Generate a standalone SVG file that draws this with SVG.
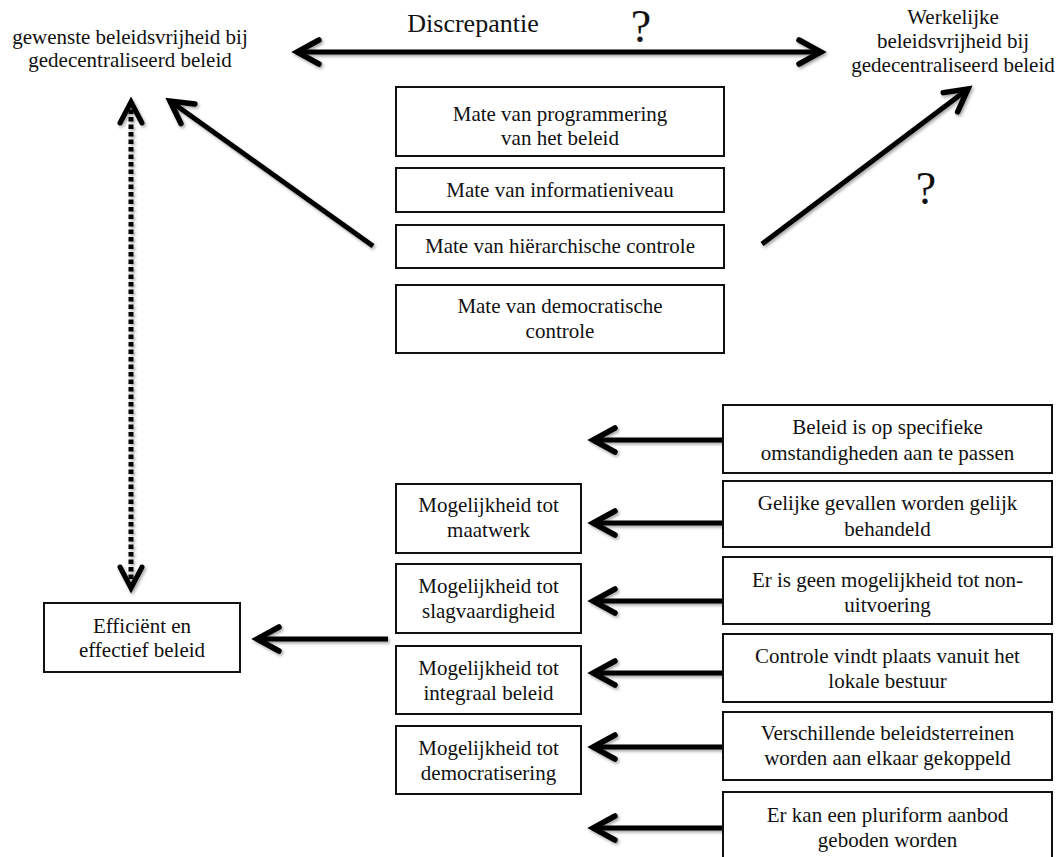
<svg xmlns="http://www.w3.org/2000/svg" width="1061" height="857" viewBox="0 0 1061 857">
<style>
  text { font-family: "Liberation Serif", "Times New Roman", serif; font-size: 21px; fill: #111; text-anchor: middle; }
  .box { fill: #fff; stroke: #111; stroke-width: 2; }
  .conn { fill: none; stroke: #000; stroke-width: 5; }
  .dot { stroke-dasharray: 4.5 3; }
  .big { font-size: 26px; }
  .q { font-size: 46px; }
</style>
<defs>
  <filter id="sh" x="-10%" y="-10%" width="120%" height="120%">
    <feDropShadow dx="1.5" dy="2" stdDeviation="1.5" flood-color="#000" flood-opacity="0.35"/>
  </filter>
  <marker id="ah" viewBox="-30 -20 40 40" markerWidth="40" markerHeight="40" refX="0" refY="0" orient="auto-start-reverse" markerUnits="userSpaceOnUse" overflow="visible">
    <path d="M -22 -12 L 0 0 L -22 12" fill="none" stroke="#000" stroke-width="5.5" stroke-linecap="round" stroke-linejoin="miter" stroke-dasharray="none"/>
  </marker>
  <marker id="ahv" viewBox="-30 -20 40 40" markerWidth="40" markerHeight="40" refX="0" refY="0" orient="auto-start-reverse" markerUnits="userSpaceOnUse" overflow="visible">
    <path d="M -21 -11 L 0 0 L -21 11" fill="none" stroke="#000" stroke-width="5" stroke-linecap="round" stroke-linejoin="miter" stroke-dasharray="none"/>
  </marker>
</defs>
<rect width="1061" height="857" fill="#fff"/>

<g id="connectors" filter="url(#sh)">
  <line class="conn" x1="297" y1="52" x2="821" y2="52" marker-start="url(#ah)" marker-end="url(#ah)"/>
  <line class="conn" x1="373" y1="246" x2="170" y2="101" marker-end="url(#ah)"/>
  <line class="conn" x1="762" y1="244" x2="968" y2="89" marker-end="url(#ah)"/>
  <line class="conn dot" x1="131" y1="102" x2="131" y2="588" marker-start="url(#ahv)" marker-end="url(#ahv)"/>
  <line class="conn" x1="723" y1="440" x2="593" y2="440" marker-end="url(#ah)"/>
  <line class="conn" x1="723" y1="523" x2="593" y2="523" marker-end="url(#ah)"/>
  <line class="conn" x1="723" y1="601" x2="593" y2="601" marker-end="url(#ah)"/>
  <line class="conn" x1="723" y1="673" x2="593" y2="673" marker-end="url(#ah)"/>
  <line class="conn" x1="723" y1="747" x2="593" y2="747" marker-end="url(#ah)"/>
  <line class="conn" x1="723" y1="828" x2="593" y2="828" marker-end="url(#ah)"/>
  <line class="conn" x1="388" y1="639" x2="257" y2="639" marker-end="url(#ah)"/>
</g>

<g id="labels">
  <text class="big" x="473" y="32">Discrepantie</text>
  <text class="q" x="641" y="42">?</text>
  <text class="q" x="926" y="204">?</text>
</g>

<g id="gewenste">
  <text x="130" y="44">gewenste beleidsvrijheid bij</text>
  <text x="130" y="67">gedecentraliseerd beleid</text>
</g>

<g id="werkelijke">
  <text x="953" y="24">Werkelijke</text>
  <text x="953" y="48">beleidsvrijheid bij</text>
  <text x="953" y="72">gedecentraliseerd beleid</text>
</g>

<g id="programmering">
  <rect class="box" x="396" y="87" width="328" height="69"/>
  <text x="560" y="121">Mate van programmering</text>
  <text x="560" y="145">van het beleid</text>
</g>
<g id="informatieniveau">
  <rect class="box" x="396" y="168" width="328" height="44"/>
  <text x="560" y="197">Mate van informatieniveau</text>
</g>
<g id="hierarchische">
  <rect class="box" x="396" y="225" width="328" height="43"/>
  <text x="560" y="253">Mate van hiërarchische controle</text>
</g>
<g id="democratische">
  <rect class="box" x="396" y="285" width="328" height="68"/>
  <text x="560" y="313">Mate van democratische</text>
  <text x="560" y="338">controle</text>
</g>

<g id="efficient">
  <rect class="box" x="44" y="603" width="196" height="69"/>
  <text x="142" y="633">Efficiënt en</text>
  <text x="142" y="657">effectief beleid</text>
</g>

<g id="maatwerk">
  <rect class="box" x="396" y="484" width="185" height="69"/>
  <text x="488.5" y="512">Mogelijkheid tot</text>
  <text x="488.5" y="537">maatwerk</text>
</g>
<g id="slagvaardigheid">
  <rect class="box" x="396" y="564" width="185" height="69"/>
  <text x="488.5" y="593">Mogelijkheid tot</text>
  <text x="488.5" y="618">slagvaardigheid</text>
</g>
<g id="integraal">
  <rect class="box" x="396" y="646" width="185" height="68"/>
  <text x="488.5" y="675">Mogelijkheid tot</text>
  <text x="488.5" y="700">integraal beleid</text>
</g>
<g id="democratisering">
  <rect class="box" x="396" y="726" width="185" height="68"/>
  <text x="488.5" y="755">Mogelijkheid tot</text>
  <text x="488.5" y="780">democratisering</text>
</g>

<g id="r1">
  <rect class="box" x="723" y="405" width="329" height="68"/>
  <text x="887.5" y="434">Beleid is op specifieke</text>
  <text x="887.5" y="460">omstandigheden aan te passen</text>
</g>
<g id="r2">
  <rect class="box" x="723" y="481" width="329" height="66"/>
  <text x="887.5" y="510">Gelijke gevallen worden gelijk</text>
  <text x="887.5" y="536">behandeld</text>
</g>
<g id="r3">
  <rect class="box" x="723" y="557" width="329" height="67"/>
  <text x="887.5" y="587">Er is geen mogelijkheid tot non-</text>
  <text x="887.5" y="612">uitvoering</text>
</g>
<g id="r4">
  <rect class="box" x="723" y="634" width="329" height="68"/>
  <text x="887.5" y="663">Controle vindt plaats vanuit het</text>
  <text x="887.5" y="688">lokale bestuur</text>
</g>
<g id="r5">
  <rect class="box" x="723" y="712" width="329" height="68"/>
  <text x="887.5" y="740">Verschillende beleidsterreinen</text>
  <text x="887.5" y="765">worden aan elkaar gekoppeld</text>
</g>
<g id="r6">
  <rect class="box" x="723" y="792" width="329" height="68"/>
  <text x="887.5" y="822">Er kan een pluriform aanbod</text>
  <text x="887.5" y="847">geboden worden</text>
</g>
</svg>
